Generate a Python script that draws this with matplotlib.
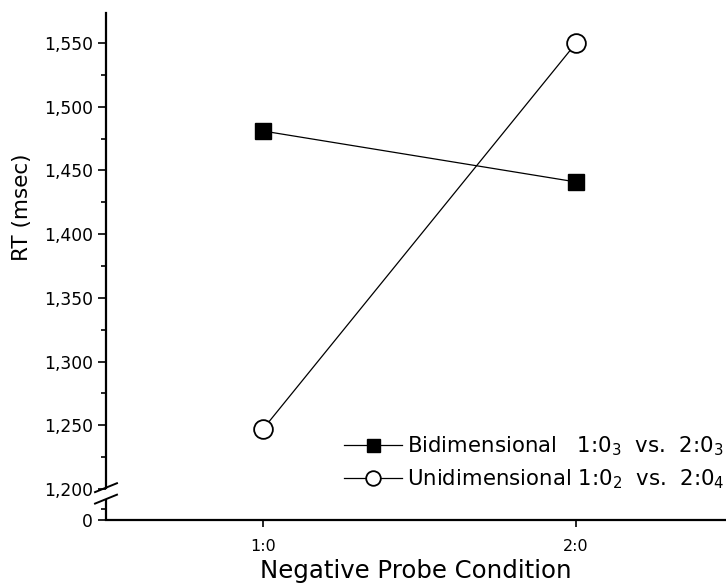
import matplotlib
matplotlib.use("Agg")
import matplotlib.pyplot as plt
from matplotlib.ticker import FixedLocator
import matplotlib.transforms as mtransforms

plt.rcParams["font.family"] = ["DejaVu Sans"]
plt.rcParams["mathtext.fontset"] = "dejavusans"

conditions = ["1:0", "2:0"]
bidimensional = [1481, 1441]
unidimensional = [1247, 1550]
y_tick_values = [1200, 1250, 1300, 1350, 1400, 1450, 1500, 1550]
y_tick_labels = ["1,200", "1,250", "1,300", "1,350", "1,400", "1,450", "1,500", "1,550"]
y_minor_values = [1225, 1275, 1325, 1375, 1425, 1475, 1525]

# broken axis: "0" is drawn a short way below 1,200
ZERO_POS = 1175.6
Y_TOP = 1573.5
BREAK_LOW, BREAK_HIGH = 1192.0, 1201.0

fig = plt.figure(figsize=(7.26, 5.88), dpi=100)
ax = fig.add_axes([0.146, 0.1156, 0.854, 0.862])

x = [1, 2]
ax.plot(x, bidimensional, color="black", linewidth=0.9, marker="s", markersize=12,
        markerfacecolor="black", markeredgecolor="black",
        label=r"Bidimensional   1:0$_3$  vs.  2:0$_3$")
ax.plot(x, unidimensional, color="black", linewidth=0.9, marker="o", markersize=13.5,
        markerfacecolor="white", markeredgecolor="black", markeredgewidth=1.3,
        label=r"Unidimensional 1:0$_2$  vs.  2:0$_4$")

ax.set_xlim(0.4984, 2.479)
ax.set_ylim(ZERO_POS, Y_TOP)
ax.set_xticks(x)
ax.set_xticklabels(conditions, fontsize=11.5)
ax.set_yticks([ZERO_POS] + y_tick_values)
ax.set_yticklabels(["0"] + y_tick_labels, fontsize=12.3)
ax.yaxis.set_minor_locator(FixedLocator(y_minor_values + [1184]))
ax.tick_params(axis="y", which="major", direction="out", length=6, width=1.2, pad=3.5)
ax.tick_params(axis="y", which="minor", direction="out", length=3.5, width=1.2)
ax.tick_params(axis="x", which="major", direction="out", length=5, width=1.2, pad=9)

for side in ["top", "right"]:
    ax.spines[side].set_visible(False)
ax.spines["bottom"].set_linewidth(1.6)
ax.spines["left"].set_linewidth(1.6)
ax.spines["left"].set_bounds(BREAK_HIGH, Y_TOP)

# lower piece of the y axis and the two break marks
trans = mtransforms.blended_transform_factory(ax.transAxes, ax.transData)
ax.plot([0, 0], [ZERO_POS, BREAK_LOW], color="black", linewidth=1.6,
        transform=trans, clip_on=False, solid_capstyle="butt")
for yb in (BREAK_LOW, BREAK_HIGH):
    ax.plot([-0.0177, 0.0177], [yb - 3.5, yb + 3.5], color="black", linewidth=1.4,
            transform=trans, clip_on=False)

ax.set_ylabel("RT (msec)", fontsize=15.5)
ax.yaxis.set_label_coords(-0.12, 0.617)
ax.set_xlabel("Negative Probe Condition", fontsize=17.6, labelpad=3)

ax.legend(loc="lower right", bbox_to_anchor=(1.012, 0.04), frameon=False, fontsize=15.3,
          handlelength=2.75, handletextpad=0.25, labelspacing=0.45, borderaxespad=0.0,
          markerscale=0.78)

fig.savefig("out.png", dpi=100)
